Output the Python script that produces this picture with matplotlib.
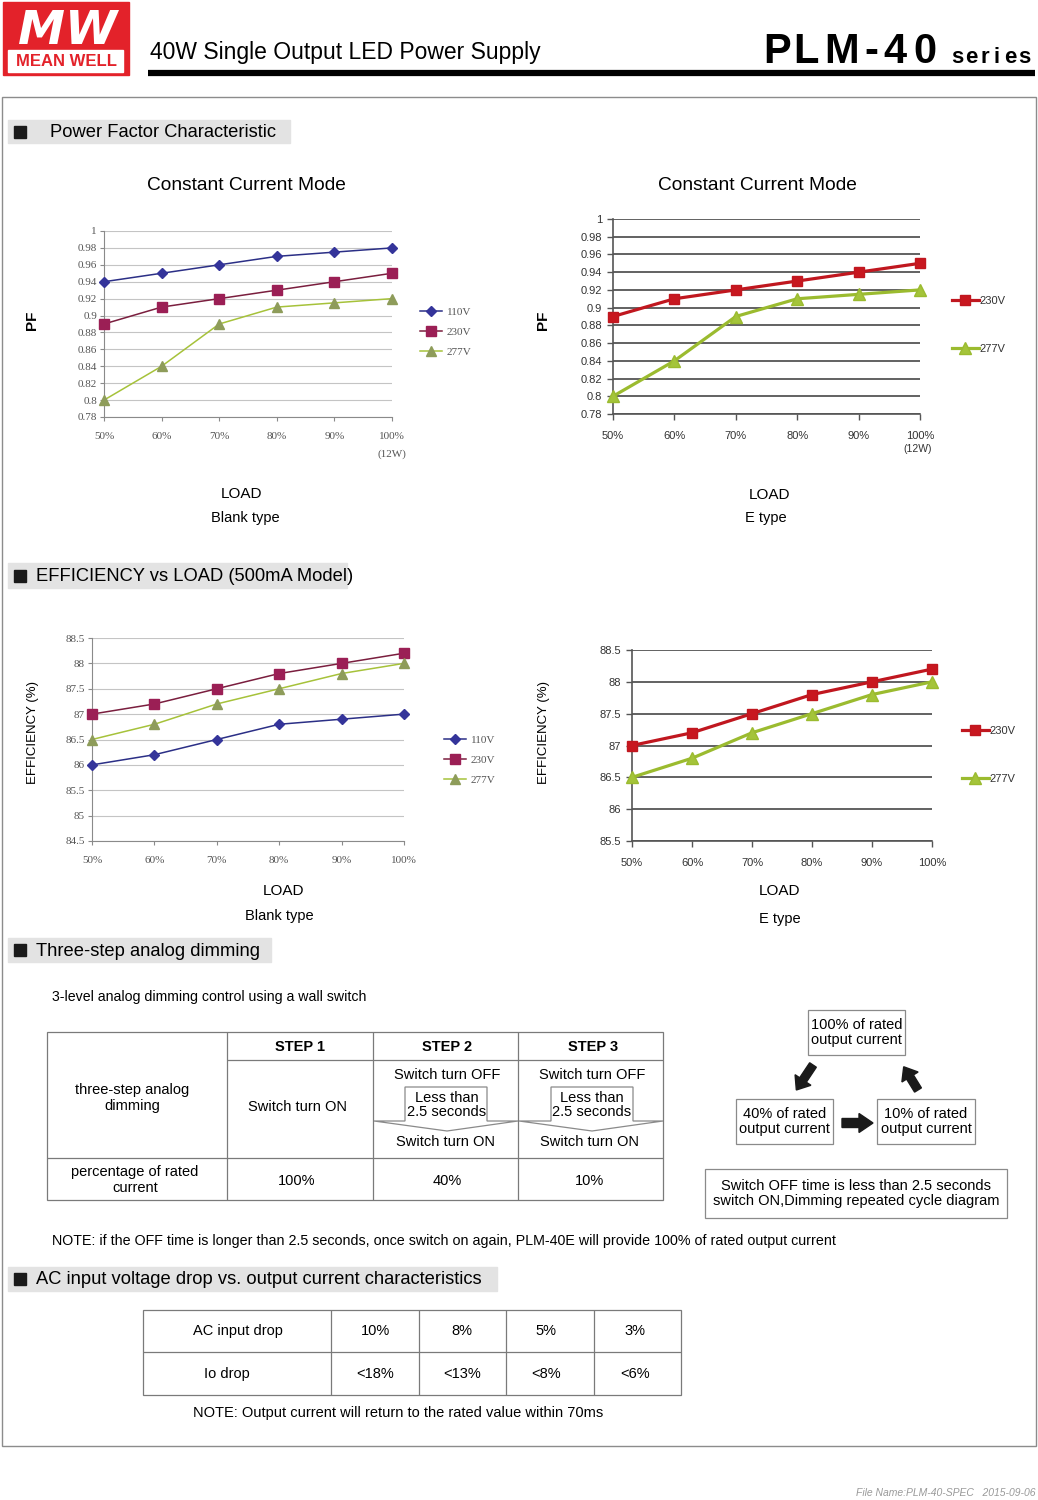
import numpy as np
import matplotlib
matplotlib.use('Agg')
import matplotlib.pyplot as plt
from matplotlib.patches import Rectangle, FancyArrow, Polygon

plt.rcParams['font.family'] = ['Liberation Sans', 'DejaVu Sans']

W, H = 1038, 1500

# ---- data ----
load_pct = [50, 60, 70, 80, 90, 100]
load_labels = ['50%', '60%', '70%', '80%', '90%', '100%']

pf_110v = [0.94, 0.95, 0.96, 0.97, 0.975, 0.98]
pf_230v = [0.89, 0.91, 0.92, 0.93, 0.94, 0.95]
pf_277v = [0.80, 0.84, 0.89, 0.91, 0.915, 0.92]

eff_110v = [86.0, 86.2, 86.5, 86.8, 86.9, 87.0]
eff_230v = [87.0, 87.2, 87.5, 87.8, 88.0, 88.2]
eff_277v = [86.5, 86.8, 87.2, 87.5, 87.8, 88.0]

pf_ticks = [0.78, 0.80, 0.82, 0.84, 0.86, 0.88, 0.90, 0.92, 0.94, 0.96, 0.98, 1.0]
pf_tick_labels = ['0.78', '0.8', '0.82', '0.84', '0.86', '0.88', '0.9', '0.92',
                  '0.94', '0.96', '0.98', '1']
eff_ticks_blank = [84.5, 85, 85.5, 86, 86.5, 87, 87.5, 88, 88.5]
eff_labels_blank = ['84.5', '85', '85.5', '86', '86.5', '87', '87.5', '88', '88.5']
eff_ticks_e = [85.5, 86, 86.5, 87, 87.5, 88, 88.5]
eff_labels_e = ['85.5', '86', '86.5', '87', '87.5', '88', '88.5']

dim_steps = ['STEP 1', 'STEP 2', 'STEP 3']
dim_percent = ['100%', '40%', '10%']
ac_drop = ['10%', '8%', '5%', '3%']
io_drop = ['<18%', '<13%', '<8%', '<6%']


def px_box(l, t, r, b):
    return [l / W, 1 - b / H, (r - l) / W, (b - t) / H]


fig = plt.figure(figsize=(W / 100, H / 100), dpi=100)
page = fig.add_axes([0, 0, 1, 1])
page.set_xlim(0, W)
page.set_ylim(H, 0)
page.axis('off')


def txt(x, y, s, size, ha='center', va='center', **kw):
    page.text(x, y, s, fontsize=size, ha=ha, va=va, **kw)


def hline(x0, x1, y, color='#7a7a7a', lw=0.9):
    page.plot([x0, x1], [y, y], color=color, lw=lw, solid_capstyle='butt')


def vline(x, y0, y1, color='#7a7a7a', lw=0.9):
    page.plot([x, x], [y0, y1], color=color, lw=lw, solid_capstyle='butt')


# ---- header ----
page.add_patch(Rectangle((3, 2), 126, 73, color='#e3222a'))
txt(68, 44, 'MW', 34, va='baseline', color='white', weight='bold', style='italic',
    family=['DejaVu Sans'])
page.add_patch(Rectangle((8, 50), 115, 22, color='white'))
txt(66, 61.5, 'MEAN WELL', 12, color='#e3222a', weight='bold')
txt(150, 53, '40W Single Output LED Power Supply', 16.5, ha='left')
hline(148, 1035, 73, color='black', lw=4.5)
for ch, cx in zip('PLM-40', [777, 806, 842, 871, 895, 925]):
    txt(cx, 63, ch, 30, va='baseline', weight='bold')
for ch, cx in zip('series', [957, 971, 985, 997, 1010, 1024]):
    txt(cx, 63, ch, 16, va='baseline', weight='bold')

# page frame
page.add_patch(Rectangle((2, 97), 1034, 1349, fill=False, ec='#8c8c8c', lw=1))


def section(y0, y1, x1, text, tx):
    page.add_patch(Rectangle((8, y0), x1 - 8, y1 - y0, color='#e3e3e3'))
    ym = (y0 + y1) / 2
    page.add_patch(Rectangle((14, ym - 6), 12, 12, color='#1a1a1a'))
    txt(tx, ym + 1, text, 13.2, ha='left')


section(120, 143, 290, 'Power Factor Characteristic', 50)
section(563, 588, 347, 'EFFICIENCY vs LOAD (500mA Model)', 36)
section(938, 962, 271, 'Three-step analog dimming', 36)
section(1267, 1291, 497, 'AC input voltage drop vs. output current characteristics', 36)

# ---- charts ----
blank_style = {
    '110V': dict(color='#2b2f86', marker='D', ms=5, mfc='#34349a'),
    '230V': dict(color='#7a1e3e', marker='s', ms=6.5, mfc='#9b1f55'),
    '277V': dict(color='#a6c23a', marker='^', ms=6.5, mfc='#8e9c5a'),
}
e_style = {
    '230V': dict(color='#c0171f', marker='s', ms=7, mfc='#c8171f'),
    '277V': dict(color='#9bbb2f', marker='^', ms=8, mfc='#a4c43a'),
}


def blank_chart(box, series, ylim, yticks, ylabels, leg_x, leg_y, leg_space):
    ax = fig.add_axes(px_box(*box))
    for label, vals in series:
        st = blank_style[label]
        ax.plot(load_pct, vals, color=st['color'], lw=1.1, marker=st['marker'],
                ms=st['ms'], mfc=st['mfc'], mec=st['mfc'], label=label,
                clip_on=False, zorder=3)
    ax.set_xlim(50, 100)
    ax.set_ylim(*ylim)
    ax.set_xticks(load_pct)
    ax.set_xticklabels(load_labels)
    ax.set_yticks(yticks)
    ax.set_yticklabels(ylabels)
    ax.grid(axis='y', color='#c4c4c4', lw=0.8)
    ax.set_axisbelow(True)
    for s in ['top', 'right']:
        ax.spines[s].set_visible(False)
    for s in ['left', 'bottom']:
        ax.spines[s].set_color('#8a8a8a')
        ax.spines[s].set_linewidth(0.8)
    ax.tick_params(axis='both', colors='#8a8a8a', labelcolor='#555555',
                   length=3, width=0.8, labelsize=8)
    ax.tick_params(axis='x', pad=8)
    ax.tick_params(axis='y', pad=2)
    for lab in ax.get_xticklabels() + ax.get_yticklabels():
        lab.set_family(['Liberation Serif'])
    ax.legend(loc='center left', bbox_to_anchor=(leg_x / W, 1 - leg_y / H),
              bbox_transform=fig.transFigure, frameon=False,
              prop={'family': ['Liberation Serif'], 'size': 8},
              handlelength=2.0, handletextpad=0.4, labelspacing=leg_space,
              borderpad=0, borderaxespad=0, labelcolor='#555555')
    return ax


def e_chart(box, series, ylim, yticks, ylabels, leg_x, leg_y, leg_space):
    ax = fig.add_axes(px_box(*box))
    for label, vals in series:
        st = e_style[label]
        ax.plot(load_pct, vals, color=st['color'], lw=2.3, marker=st['marker'],
                ms=st['ms'], mfc=st['mfc'], mec=st['color'], label=label,
                clip_on=False, zorder=3)
    ax.set_xlim(50, 100)
    ax.set_ylim(*ylim)
    ax.set_xticks(load_pct)
    ax.set_xticklabels(load_labels)
    ax.set_yticks(yticks)
    ax.set_yticklabels(ylabels)
    ax.grid(axis='y', color='#555555', lw=1.3)
    ax.set_axisbelow(True)
    for s in ['top', 'right']:
        ax.spines[s].set_visible(False)
    for s in ['left', 'bottom']:
        ax.spines[s].set_color('#555555')
        ax.spines[s].set_linewidth(1.2)
    ax.tick_params(axis='both', colors='#555555', labelcolor='#333333',
                   length=4, width=1.0, labelsize=8)
    ax.tick_params(axis='x', pad=8)
    ax.tick_params(axis='y', pad=4)
    ax.legend(loc='center left', bbox_to_anchor=(leg_x / W, 1 - leg_y / H),
              bbox_transform=fig.transFigure, frameon=False,
              prop={'size': 8},
              handlelength=2.4, handletextpad=0.1, labelspacing=leg_space,
              borderpad=0, borderaxespad=0, labelcolor='#333333')
    return ax


blank_chart((104, 231, 392, 417),
            [('110V', pf_110v), ('230V', pf_230v), ('277V', pf_277v)],
            (0.78, 1.0), pf_ticks, pf_tick_labels, 420, 332, 0.95)
e_chart((613, 219, 920, 414),
        [('230V', pf_230v), ('277V', pf_277v)],
        (0.78, 1.0), pf_ticks, pf_tick_labels, 952, 325, 3.4)
blank_chart((92, 638, 404, 841),
            [('110V', eff_110v), ('230V', eff_230v), ('277V', eff_277v)],
            (84.5, 88.5), eff_ticks_blank, eff_labels_blank, 444, 760, 0.95)
e_chart((632, 650, 932, 841),
        [('230V', eff_230v), ('277V', eff_277v)],
        (85.5, 88.5), eff_ticks_e, eff_labels_e, 962, 755, 3.4)

# chart captions
txt(246, 185, 'Constant Current Mode', 13.8)
txt(757, 185, 'Constant Current Mode', 13.8)
txt(32, 320, 'PF', 11, rotation=90, weight='bold')
txt(543, 320, 'PF', 11, rotation=90, weight='bold')
txt(392, 454, '(12W)', 8, color='#555555', family=['Liberation Serif'])
txt(918, 449, '(12W)', 7.5, color='#333333')
txt(33, 733, 'EFFICIENCY (%)', 9.5, rotation=90)
txt(544, 733, 'EFFICIENCY (%)', 9.5, rotation=90)
for x, y in [(242, 494), (769, 495), (283, 891), (779, 891)]:
    txt(x, y, 'LOAD', 11)
txt(245, 518, 'Blank type', 10.5)
txt(766, 518, 'E type', 10.5)
txt(279, 916, 'Blank type', 10.5)
txt(780, 919, 'E type', 10.5)

# ---- three-step dimming table ----
txt(52, 997, '3-level analog dimming control using a wall switch', 10.2, ha='left')
page.add_patch(Rectangle((47, 1032), 616, 168, fill=False, ec='#7a7a7a', lw=0.9))
for x in [227, 373, 518]:
    vline(x, 1032, 1200)
hline(227, 663, 1060)
hline(47, 663, 1158)
for label, cx in zip(dim_steps, [300, 447, 593]):
    txt(cx, 1047, label, 10.5, weight='bold')
txt(132, 1098, 'three-step analog\ndimming', 10.5, linespacing=1.15)
txt(297, 1107, 'Switch turn ON', 10.5)
for cx, bl, br, c0, c1 in [(447, 405, 487, 374, 518), (592, 551, 633, 519, 663)]:
    txt(cx, 1075, 'Switch turn OFF', 10.5)
    page.add_patch(Polygon([(bl, 1087), (br, 1087), (br, 1121), (c1, 1121),
                            (cx, 1131), (c0, 1121), (bl, 1121)],
                           closed=True, fill=False, ec='#8a8a8a', lw=0.9))
    txt(cx, 1105, 'Less than\n2.5 seconds', 10.5, linespacing=1.05)
    txt(cx - 2, 1142, 'Switch turn ON', 10.5)
txt(135, 1180, 'percentage of rated\ncurrent', 10.5, linespacing=1.15)
for label, cx in zip(dim_percent, [297, 447, 590]):
    txt(cx, 1181, label, 10.5)

# cycle diagram
for (l, t, r, b), s in [((808, 1010, 905, 1055), '100% of rated\noutput current'),
                        ((736, 1099, 833, 1144), '40% of rated\noutput current'),
                        ((877, 1099, 975, 1144), '10% of rated\noutput current')]:
    page.add_patch(Rectangle((l, t), r - l, b - t, fill=False, ec='#8a8a8a', lw=0.9))
    txt((l + r) / 2, (t + b) / 2, s, 10.5, linespacing=1.1)
page.add_patch(FancyArrow(813, 1065, -10, 15, width=8, head_width=19,
                          head_length=12, color='#1a1a1a'))
page.add_patch(FancyArrow(842, 1123, 17, 0, width=9, head_width=19,
                          head_length=14, color='#1a1a1a'))
page.add_patch(FancyArrow(918, 1090, -8, -13, width=8, head_width=19,
                          head_length=12, color='#1a1a1a'))
page.add_patch(Rectangle((705, 1169), 302, 49, fill=False, ec='#8a8a8a', lw=0.9))
txt(856, 1193.5, 'Switch OFF time is less than 2.5 seconds\n'
    'switch ON,Dimming repeated cycle diagram', 10.5, linespacing=1.1)

txt(52, 1241, 'NOTE: if the OFF time is longer than 2.5 seconds, once switch on again, '
    'PLM-40E will provide 100% of rated output current', 10.3, ha='left')

# ---- AC input drop table ----
page.add_patch(Rectangle((143, 1310), 538, 85, fill=False, ec='#7a7a7a', lw=0.9))
hline(143, 681, 1352)
for x in [331, 419, 506, 594]:
    vline(x, 1310, 1395)
txt(238, 1331, 'AC input drop', 10.5)
txt(227, 1374, 'Io drop', 10.5)
for a, b, cx in zip(ac_drop, io_drop, [375, 462, 546, 635]):
    txt(cx, 1331, a, 10.5)
    txt(cx, 1374, b, 10.5)
txt(193, 1413, 'NOTE: Output current will return to the rated value within 70ms', 10.5,
    ha='left')

txt(1035, 1493, 'File Name:PLM-40-SPEC   2015-09-06', 7.5, ha='right',
    color='#9a9a9a', style='italic')

fig.savefig('out.png', dpi=100)
